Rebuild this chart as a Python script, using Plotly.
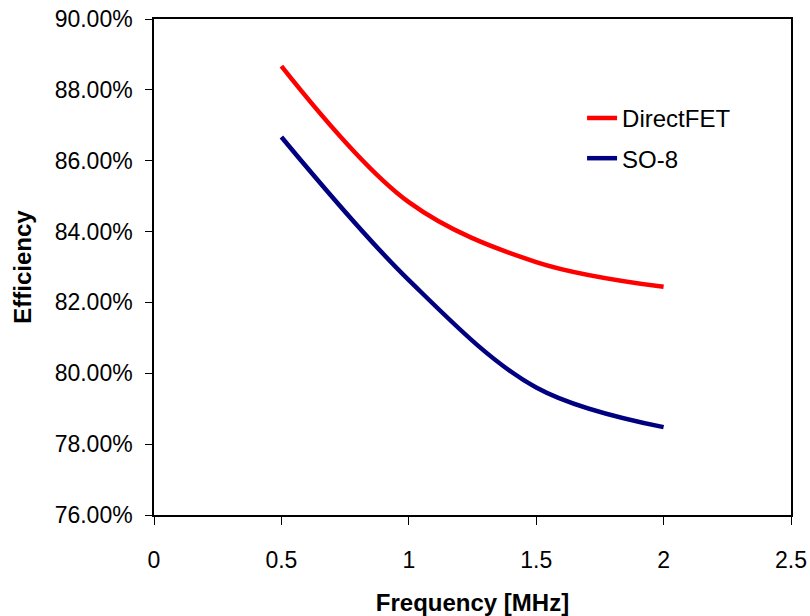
import plotly.graph_objects as go

freq = [0.5, 1.0, 1.5, 2.0]
directfet = [0.8867, 0.8483, 0.8314, 0.8244]
so8 = [0.8667, 0.8263, 0.7960, 0.7848]
series_names = ["DirectFET", "SO-8"]
colors = ["#FF0000", "#000080"]

FONT = "Liberation Sans, Arial, sans-serif"

fig = go.Figure()
for i, (name, vals) in enumerate(zip(series_names, [directfet, so8])):
    fig.add_trace(go.Scatter(
        x=freq, y=vals, mode="lines", name=name,
        line=dict(color=colors[i], width=4.5, shape="spline", smoothing=1.0),
        legendgroup=name,
    ))

fig.update_layout(
    width=810, height=616,
    margin=dict(l=154, r=19, t=19, b=101),
    paper_bgcolor="white", plot_bgcolor="white",
    font=dict(family=FONT, size=23, color="black"),
    showlegend=True,
    legend=dict(x=0.672, y=0.845, xanchor="left", yanchor="top",
                font=dict(family=FONT, size=24, color="black"),
                bgcolor="rgba(0,0,0,0)", tracegroupgap=6, itemwidth=30),
    xaxis=dict(range=[0, 2.5], tickvals=[0, 0.5, 1, 1.5, 2, 2.5],
               ticktext=["0", "0.5", "1", "1.5", "2", "2.5"],
               showgrid=False, zeroline=False, showline=True, linecolor="black",
               linewidth=1.5, mirror=True, ticks="outside", ticklen=8, tickwidth=1,
               tickcolor="black", ticklabelstandoff=16, automargin=False,
               title=dict(text="<b>Frequency [MHz]</b>", font=dict(family=FONT, size=24), standoff=23)),
    yaxis=dict(range=[0.76, 0.90], tickvals=[0.76, 0.78, 0.80, 0.82, 0.84, 0.86, 0.88, 0.90],
               tickformat=".2%",
               showgrid=False, zeroline=False, showline=True, linecolor="black",
               linewidth=1.5, mirror=True, ticks="outside", ticklen=7, tickwidth=1,
               tickcolor="black", ticklabelstandoff=8, automargin=False,
               title=dict(text="<b>Efficiency</b>", font=dict(family=FONT, size=24), standoff=16)),
)

fig.write_html("out.html")
